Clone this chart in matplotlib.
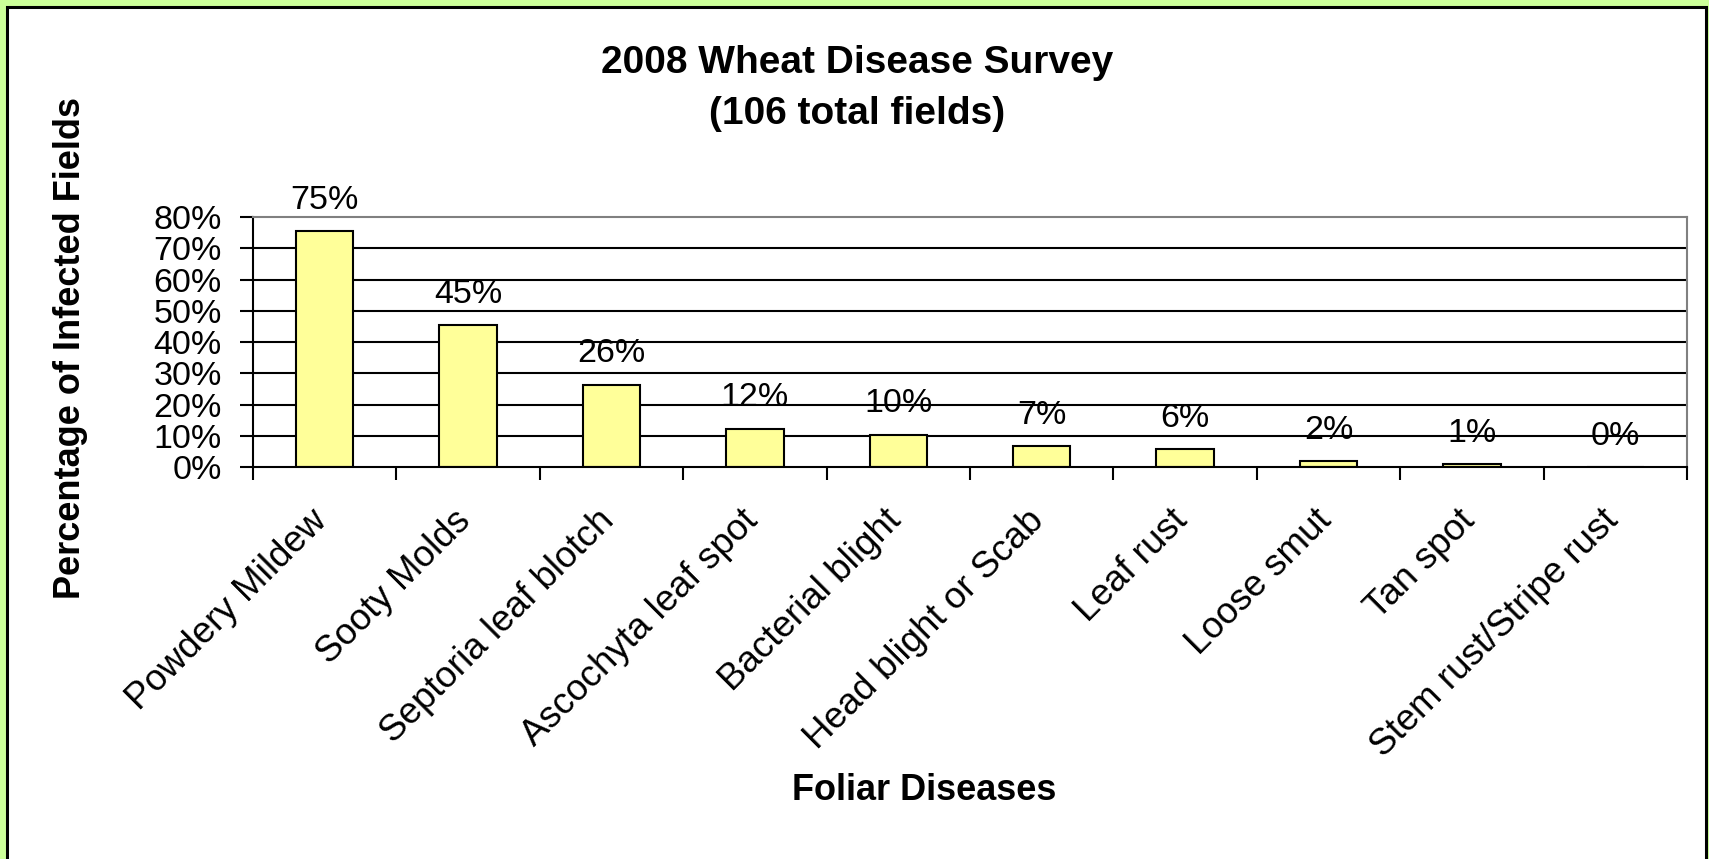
# 2008 wheat disease survey - bar chart of infected fields

import matplotlib
matplotlib.use('Agg')
import matplotlib.pyplot as plt
import matplotlib.transforms as mtransforms
from matplotlib.patches import Rectangle

diseases = ['Powdery Mildew', 'Sooty Molds', 'Septoria leaf blotch',
            'Ascochyta leaf spot', 'Bacterial blight', 'Head blight or Scab',
            'Leaf rust', 'Loose smut', 'Tan spot', 'Stem rust/Stripe rust']
percent_infected = [75.4, 45.3, 26.4, 12.3, 10.4, 6.6, 5.7, 1.9, 0.9, 0.0]
y_ticks = [0, 10, 20, 30, 40, 50, 60, 70, 80]

plt.rcParams['font.family'] = ['Liberation Sans', 'DejaVu Sans']

W, H = 1709, 859
fig = plt.figure(figsize=(W / 100, H / 100), dpi=100)
fig.patch.set_facecolor('#CCFF99')

# white chart area with black frame
frame = Rectangle((7 / W, -0.02), 1698.5 / W, 1 - 7 / H + 0.02,
                  transform=fig.transFigure, facecolor='white',
                  edgecolor='black', linewidth=2.2, zorder=0)
fig.add_artist(frame)

ax = fig.add_axes([253 / W, 1 - 467 / H, 1434 / W, 250 / H])
ax.patch.set_alpha(0)

x = list(range(len(diseases)))
ax.bar(x, percent_infected, width=0.4, color='#FFFF99', edgecolor='black',
       linewidth=1.5, zorder=2)

for xi, v in zip(x, percent_infected):
    ax.annotate(f'{v:.0f}%', (xi, v), xytext=(0, 16), textcoords='offset points',
                ha='center', va='baseline', fontsize=24.5)

ax.set_xlim(-0.5, len(diseases) - 0.5)
ax.set_ylim(0, 80)

ax.set_yticks(y_ticks)
ax.set_yticklabels([f'{t}%' for t in y_ticks], fontsize=24.5)
ax.tick_params(axis='y', direction='out', length=9.4, width=1.5, pad=13)
for t in y_ticks[1:-1]:
    ax.axhline(t, color='black', linewidth=1.5, zorder=1)

ax.set_xticks(x)
ax.set_xticks([i - 0.5 for i in range(len(diseases) + 1)], minor=True)
ax.tick_params(axis='x', which='major', length=0, pad=26)
ax.tick_params(axis='x', which='minor', direction='out', length=9.4, width=1.5)
ax.set_xticklabels(diseases, fontsize=26.5, rotation=45, ha='right', va='top',
                   rotation_mode='anchor')
shift = mtransforms.ScaledTranslation(-15 / 100, 0, fig.dpi_scale_trans)
for lbl in ax.get_xticklabels():
    lbl.set_transform(lbl.get_transform() + shift)

for side in ['left', 'bottom']:
    ax.spines[side].set_color('black')
    ax.spines[side].set_linewidth(1.5)
for side in ['top', 'right']:
    ax.spines[side].set_color('#808080')
    ax.spines[side].set_linewidth(1.5)

fig.text(857 / W, 1 - 73 / H, '2008 Wheat Disease Survey', ha='center',
         va='baseline', fontsize=28, fontweight='bold')
fig.text(857 / W, 1 - 124 / H, '(106 total fields)', ha='center',
         va='baseline', fontsize=28, fontweight='bold')
fig.text(71 / W, 1 - 348 / H, 'Percentage of Infected Fields', ha='center',
         va='center', rotation=90, fontsize=26, fontweight='bold')
fig.text(924 / W, 1 - 800 / H, 'Foliar Diseases', ha='center',
         va='baseline', fontsize=26, fontweight='bold')

fig.savefig('out.png', dpi=100, facecolor=fig.get_facecolor())
